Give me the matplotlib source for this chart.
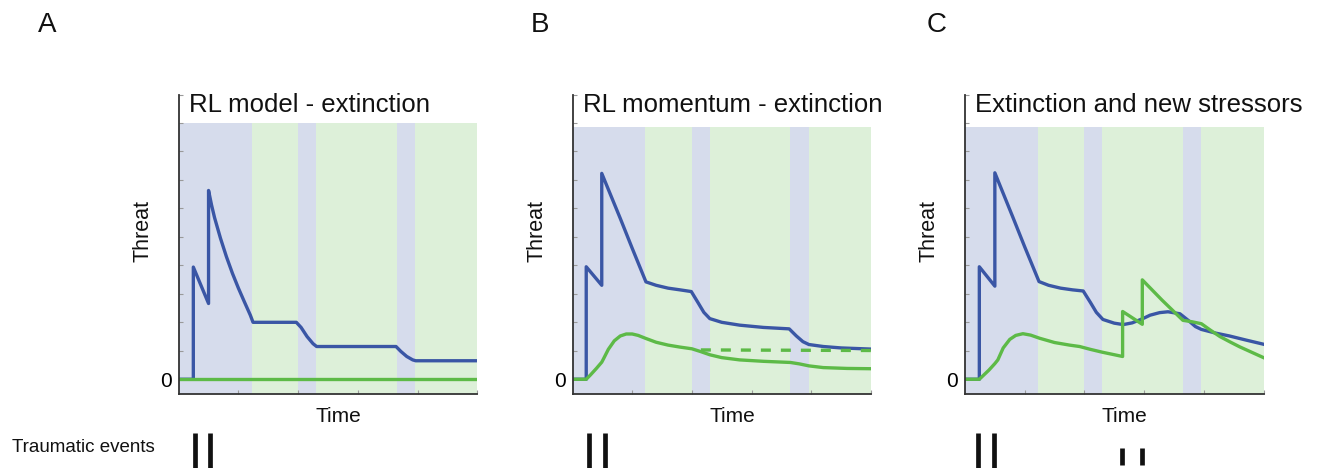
import matplotlib
matplotlib.use("Agg")
import matplotlib.pyplot as plt

plt.rcParams['font.family'] = ['Liberation Sans', 'DejaVu Sans']

# ---------------- data ----------------
titles = ["RL model - extinction", "RL momentum - extinction", "Extinction and new stressors"]
panel_letters = ["A", "B", "C"]

# shaded phases (blue = trauma / threat phase, green = extinction phase)
blue_spans = [(0.0, 1.22), (2.0, 2.30), (3.65, 3.96)]
green_spans = [(1.22, 2.0), (2.30, 3.65), (3.96, 5.0)]

# Panel A
A_blue_x = [0, 0.245, 0.245, 0.5, 0.5, 0.55, 0.6, 0.7, 0.8, 0.9, 1.0, 1.1, 1.2, 1.245,
            1.97, 2.05, 2.15, 2.25, 2.31, 3.64, 3.72, 3.82, 3.92, 3.97, 5]
A_blue_y = [0, 0, 3.94, 2.66, 6.63, 6.12, 5.68, 4.95, 4.3, 3.72, 3.2, 2.72, 2.25, 2.0,
            2.0, 1.82, 1.5, 1.25, 1.15, 1.15, 0.98, 0.8, 0.68, 0.65, 0.65]
A_green_x = [0, 5]
A_green_y = [0, 0]

# Panel B
B_blue_x = [0, 0.23, 0.23, 0.49, 0.49, 0.8, 1.0, 1.23, 1.4, 1.6, 1.8, 1.99, 2.1, 2.2, 2.3,
            2.5, 2.8, 3.2, 3.63, 3.75, 3.86, 3.96, 4.2, 4.5, 5]
B_blue_y = [0, 0, 3.95, 3.3, 7.23, 5.65, 4.6, 3.42, 3.3, 3.2, 3.14, 3.08, 2.7, 2.35, 2.13,
            2.0, 1.9, 1.82, 1.77, 1.52, 1.32, 1.22, 1.15, 1.1, 1.06]
B_green_x = [0, 0.23, 0.3, 0.4, 0.49, 0.52, 0.6, 0.7, 0.8, 0.9, 1.0, 1.1, 1.22, 1.4, 1.6, 1.8,
             2.0, 2.15, 2.3, 2.5, 2.8, 3.2, 3.65, 3.8, 3.96, 4.2, 4.6, 5]
B_green_y = [0, 0, 0.15, 0.38, 0.6, 0.72, 1.05, 1.35, 1.52, 1.59, 1.59, 1.54, 1.44, 1.3, 1.2, 1.13,
             1.07, 0.97, 0.86, 0.76, 0.68, 0.63, 0.59, 0.54, 0.47, 0.41, 0.38, 0.37]
B_dash_x = [2.15, 5]
B_dash_y = [1.03, 1.01]

# Panel C
C_blue_x = [0, 0.24, 0.24, 0.5, 0.5, 0.8, 1.0, 1.24, 1.4, 1.6, 1.8, 1.98, 2.1, 2.2, 2.31,
            2.5, 2.65, 2.8, 2.98, 3.1, 3.26, 3.4, 3.6, 3.75, 3.86, 3.96, 4.2, 4.43, 4.7, 5]
C_blue_y = [0, 0, 3.95, 3.27, 7.25, 5.7, 4.65, 3.43, 3.3, 3.2, 3.14, 3.1, 2.7, 2.35, 2.1,
            1.97, 1.92, 1.98, 2.13, 2.25, 2.34, 2.37, 2.3, 2.05, 1.85, 1.75, 1.62, 1.52, 1.38, 1.23]
C_green_x = [0, 0.24, 0.3, 0.4, 0.5, 0.55, 0.64, 0.75, 0.85, 0.97, 1.1, 1.25, 1.5, 1.75, 1.92,
             2.1, 2.3, 2.64, 2.64, 2.97, 2.97, 3.3, 3.65, 3.8, 3.96, 4.1, 4.27, 4.45, 4.6, 4.8, 5]
C_green_y = [0, 0, 0.12, 0.32, 0.55, 0.68, 1.1, 1.4, 1.54, 1.6, 1.55, 1.44, 1.29, 1.2, 1.15,
             1.05, 0.95, 0.8, 2.38, 1.93, 3.49, 2.78, 2.07, 2.02, 1.95, 1.74, 1.5, 1.3, 1.14, 0.95, 0.76]

# traumatic events (big bars) and new stressors (small bars)
A_events = [0.27, 0.525]
B_events = [0.27, 0.54]
C_events = [0.22, 0.49]
C_stressors = [2.63, 2.96]

shade_tops = [9.0, 8.85, 8.85]

# ---------------- style ----------------
BLUE = "#3a56a5"
GREEN = "#5dba47"
BLUE_BG = "#d6dcec"
GREEN_BG = "#ddf0d9"
SPINE = "#333333"

W, H = 1320, 468
fig = plt.figure(figsize=(W / 100, H / 100), dpi=100)

ax_lefts = [178.7, 572.5, 965.0]
ax_width = 298.5
ax_bottom = 393.5
ax_height = 299.0

blues = [(A_blue_x, A_blue_y), (B_blue_x, B_blue_y), (C_blue_x, C_blue_y)]
greens = [(A_green_x, A_green_y), (B_green_x, B_green_y), (C_green_x, C_green_y)]
events_big = [A_events, B_events, C_events]
events_small = [[], [], C_stressors]
letter_x = [47, 540, 937]

for i in range(3):
    ax = fig.add_axes([ax_lefts[i] / W, (H - ax_bottom) / H, ax_width / W, ax_height / H])
    ax.set_xlim(0, 5)
    ax.set_ylim(-0.5, 10)
    top = shade_tops[i]
    for x0, x1 in blue_spans:
        ax.fill_between([x0, x1], -0.5, top, color=BLUE_BG, lw=0, zorder=0)
    for x0, x1 in green_spans:
        ax.fill_between([x0, x1], -0.5, top, color=GREEN_BG, lw=0, zorder=0)

    bx, by = blues[i]
    gx, gy = greens[i]
    ax.plot(bx, by, color=BLUE, lw=2.4, zorder=3, solid_joinstyle='round')
    ax.plot(gx, gy, color=GREEN, lw=2.4, zorder=4, solid_joinstyle='round')
    if i == 1:
        ax.plot(B_dash_x, B_dash_y, color=GREEN, lw=2.4, ls=(0, (3, 3)), zorder=4)

    for s in ['top', 'right']:
        ax.spines[s].set_visible(False)
    for s in ['left', 'bottom']:
        ax.spines[s].set_color(SPINE)
        ax.spines[s].set_linewidth(1.3)
        ax.spines[s].set_zorder(5)

    ax.set_yticks(range(0, 11))
    ax.set_yticklabels(['0'] + [''] * 10, fontsize=15)
    ax.set_xticks([1, 2, 3, 4, 5])
    ax.set_xticklabels([])
    ax.tick_params(direction='in', length=3, width=0.8, color='#9a9a9a', pad=5)

    ax.text(0.034, 9.37, titles[i], transform=ax.get_yaxis_transform(),
            fontsize=18.5, ha='left', va='baseline', color='#111111')
    ax.text(0.535, -0.096, "Time", transform=ax.transAxes, fontsize=15,
            ha='center', va='baseline', color='#111111')
    ax.text(-0.12, 5.2, "Threat", transform=ax.get_yaxis_transform(), fontsize=15.5,
            rotation=90, ha='center', va='center', color='#111111')

    fig.text(letter_x[i] / W, 1 - 25 / H, panel_letters[i], fontsize=20,
             ha='center', va='center', color='#111111')

    # event marker row
    ev = fig.add_axes([ax_lefts[i] / W, 0, ax_width / W, 35 / H])
    ev.set_xlim(0, 5)
    ev.set_ylim(0, 1)
    ev.axis('off')
    ev.vlines(events_big[i], 0, 1, color='#111111', lw=3.4)
    if events_small[i]:
        ev.vlines(events_small[i], 0.09, 0.57, color='#111111', lw=3.4)

fig.text(12 / W, (H - 451.7) / H, "Traumatic events", fontsize=13.5,
         ha='left', va='baseline', color='#111111')

fig.savefig("out.png", dpi=100)
